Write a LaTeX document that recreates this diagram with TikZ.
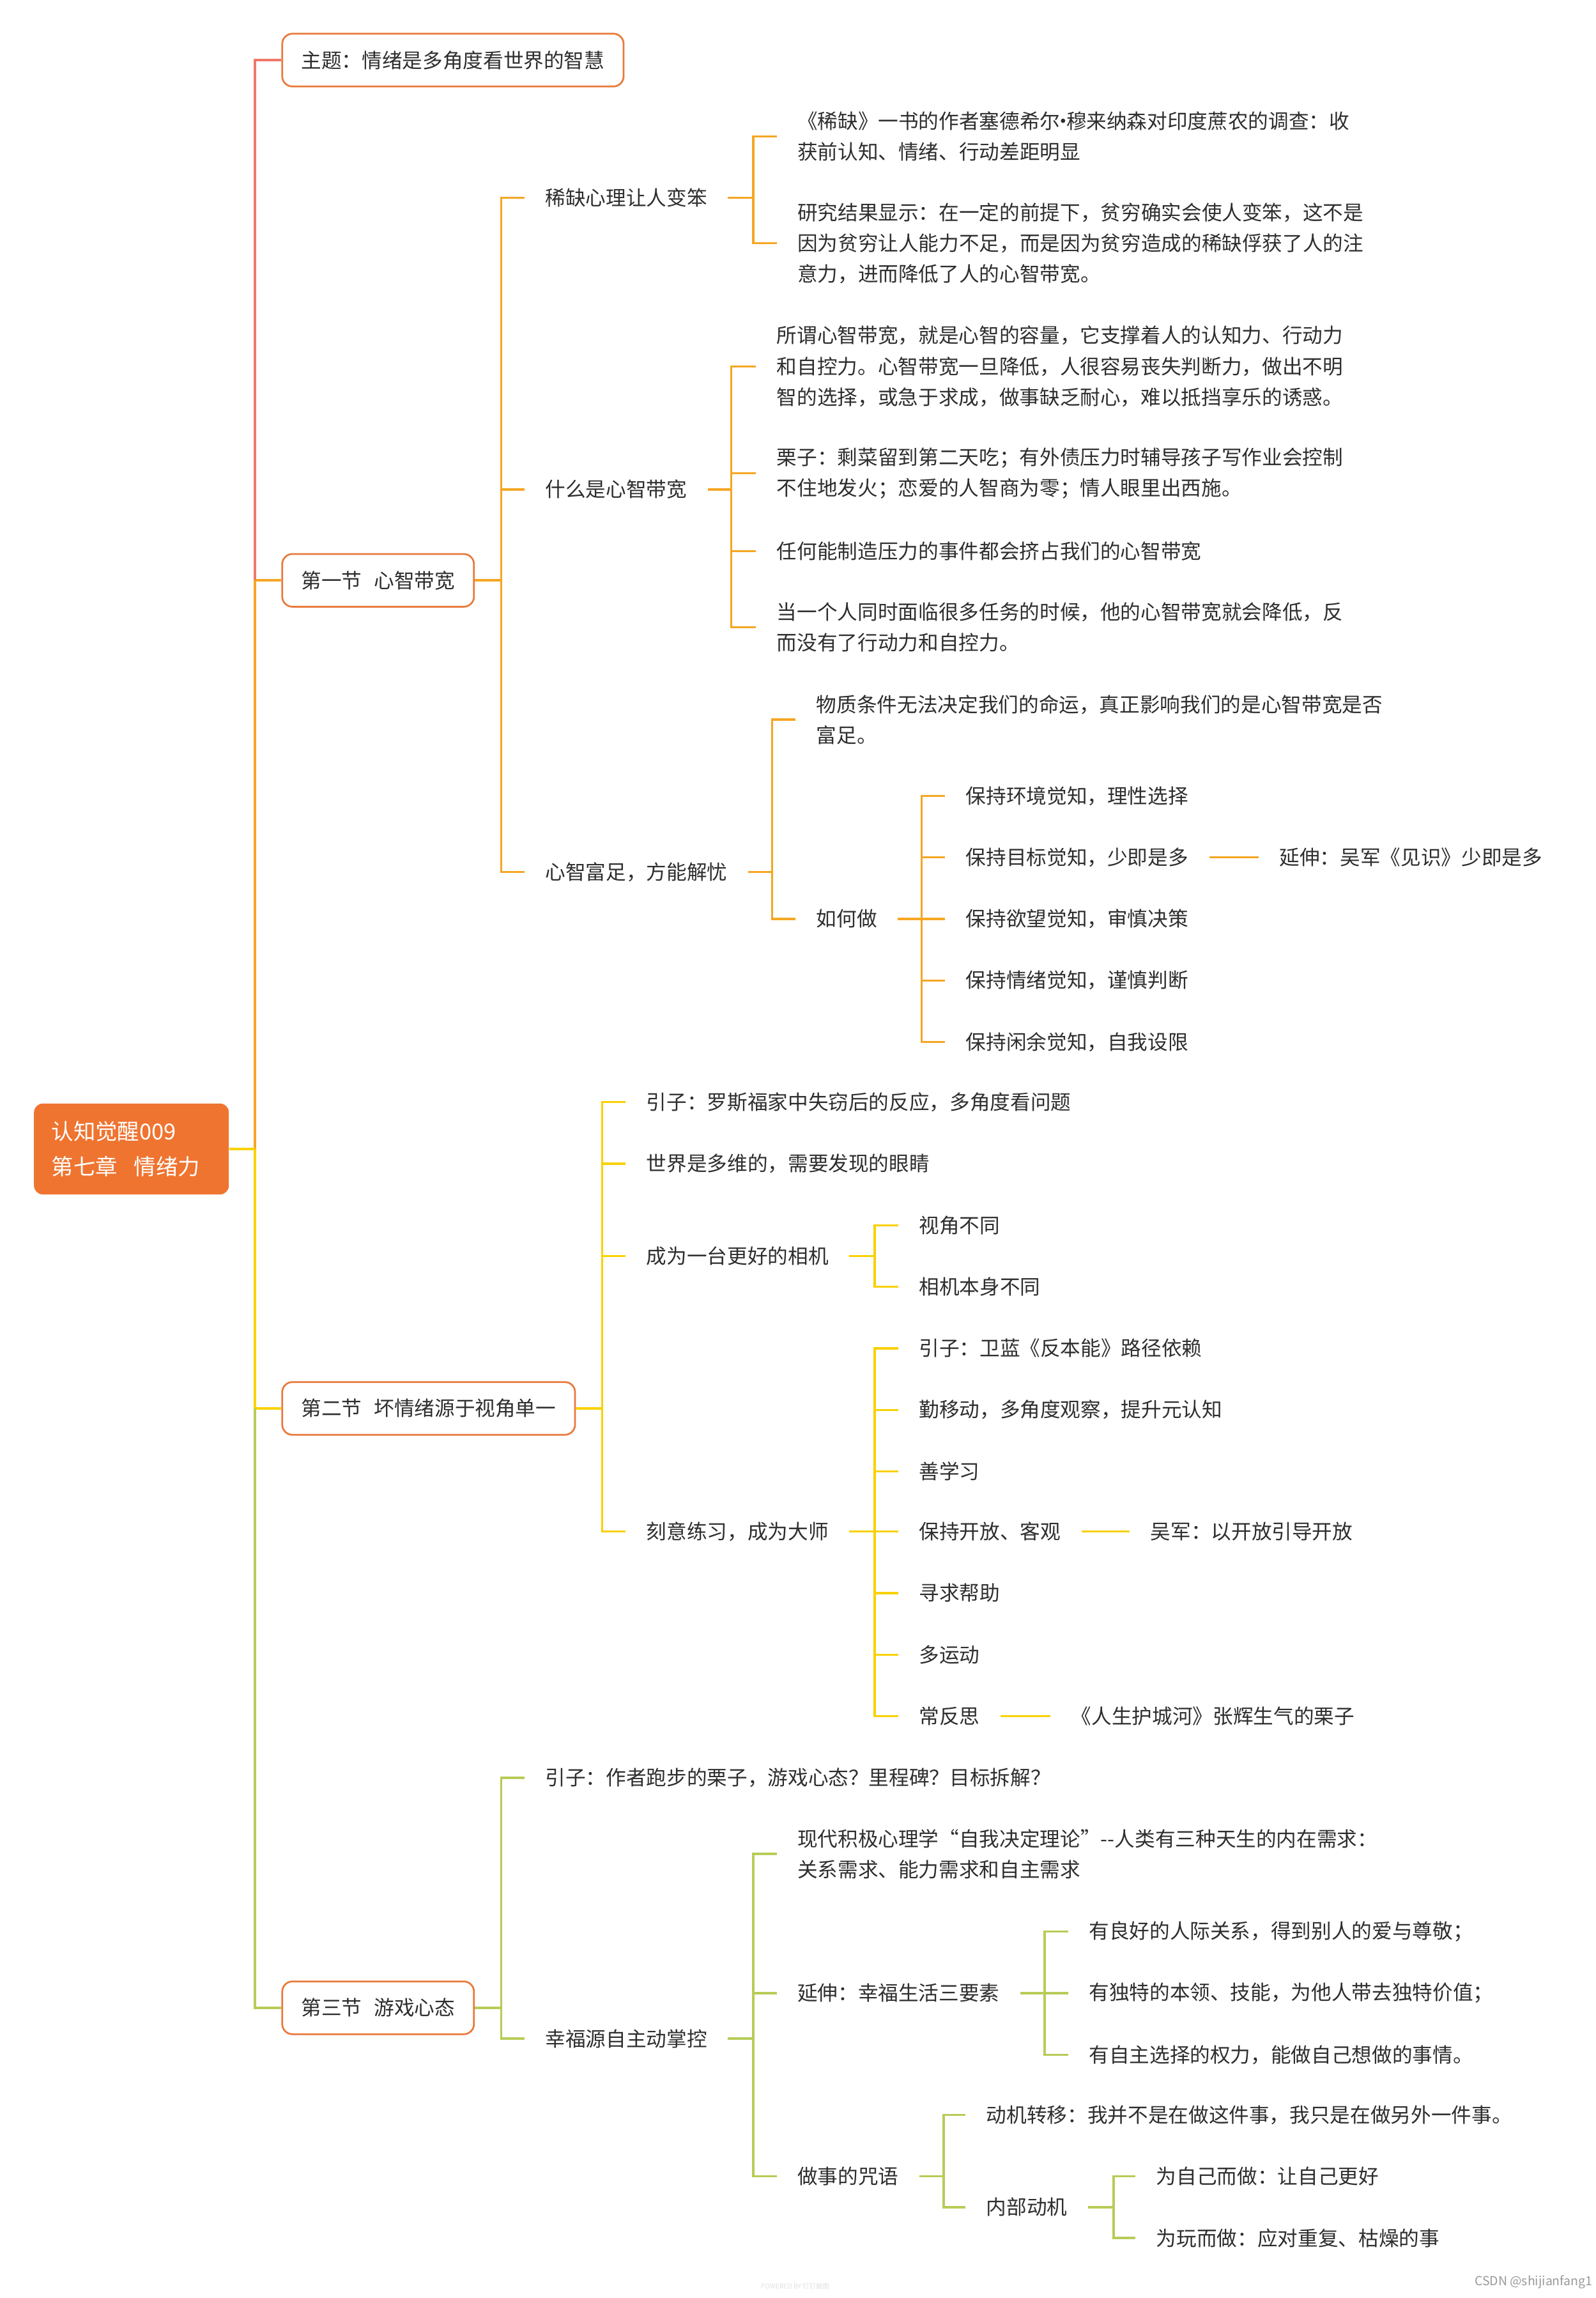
\documentclass[tikz,border=0pt]{standalone}
\usepackage{fontspec}
\setmainfont{Noto Sans CJK SC}
\usetikzlibrary{calc}
\definecolor{cRed}{HTML}{F07869}
\definecolor{cOra}{HTML}{F5A623}
\definecolor{cYel}{HTML}{F9D100}
\definecolor{cGrn}{HTML}{B6CC56}
\definecolor{cBox}{HTML}{E87A3C}
\definecolor{cRoot}{HTML}{EF7430}
\definecolor{cText}{HTML}{2E2E2E}
\begin{document}
\begin{tikzpicture}[x=1pt,y=-1pt,
  txt/.style={anchor=west,inner sep=0pt,align=left,text=cText,font=\fontsize{13.8}{21}\selectfont},
  secbox/.style={anchor=west,draw=cBox,line width=1.2pt,rounded corners=7pt,fill=white,inner xsep=13pt,inner ysep=0pt,minimum height=36pt,text=cText,font=\fontsize{13.8}{21}\selectfont},
  rootbox/.style={anchor=west,fill=cRoot,rounded corners=6pt,inner xsep=12pt,inner ysep=0pt,minimum height=62pt,text width=109pt,align=left,text=white,font=\fontsize{15}{24}\selectfont},
  lnR/.style={draw=cRed,line width=1.5pt},
  lnO/.style={draw=cOra,line width=1.5pt},
  lnY/.style={draw=cYel,line width=1.5pt},
  lnG/.style={draw=cGrn,line width=1.5pt}]
\useasboundingbox (0,0) rectangle (1089,1568);

% ---------- root and level 1 ----------
\node[rootbox] (root) at (23,784) {认知觉醒009\\第七章\hspace{0.75em}情绪力};
\coordinate (T) at (174,784);
\coordinate (T1) at (174,396);
\coordinate (T2) at (174,961);
\node[secbox] (topic) at (192,41) {主题：情绪是多角度看世界的智慧};
\node[secbox] (s1) at (192,396) {第一节\hspace{0.6em}心智带宽};
\node[secbox] (s2) at (192,961) {第二节\hspace{0.6em}坏情绪源于视角单一};
\node[secbox] (s3) at (192,1370) {第三节\hspace{0.6em}游戏心态};

\draw[lnO] (T) |- (s1.west);
\draw[lnR] (T1) |- (topic.west);
\draw[lnY] (T) |- (s2.west);
\draw[lnG] (T2) |- (s3.west);
\draw[lnY] (root.east) -- (T);

% ---------- section 1 ----------
\coordinate (B1) at (342,396);
\node[txt] (a1) at (372,135) {稀缺心理让人变笨};
\node[txt] (a2) at (372,334) {什么是心智带宽};
\node[txt] (a3) at (372,595) {心智富足，方能解忧};
\foreach \c in {a1,a2,a3} \draw[lnO] (s1.east) -- (B1) |- ([xshift=-14pt]\c.west);

\coordinate (Ba1) at (514,135);
\node[txt] (a11) at (544,93) {《稀缺》一书的作者塞德希尔\makebox[0.3em][c]{·}穆来纳森对印度蔗农的调查：收\\获前认知、情绪、行动差距明显};
\node[txt] (a12) at (544,166) {研究结果显示：在一定的前提下，贫穷确实会使人变笨，这不是\\因为贫穷让人能力不足，而是因为贫穷造成的稀缺俘获了人的注\\意力，进而降低了人的心智带宽。};
\foreach \c in {a11,a12} \draw[lnO] ([xshift=14pt]a1.east) -- (Ba1) |- ([xshift=-14pt]\c.west);

\coordinate (Ba2) at (499,334);
\node[txt] (a21) at (530,250) {所谓心智带宽，就是心智的容量，它支撑着人的认知力、行动力\\和自控力。心智带宽一旦降低，人很容易丧失判断力，做出不明\\智的选择，或急于求成，做事缺乏耐心，难以抵挡享乐的诱惑。};
\node[txt] (a22) at (530,323) {栗子：剩菜留到第二天吃；有外债压力时辅导孩子写作业会控制\\不住地发火；恋爱的人智商为零；情人眼里出西施。};
\node[txt] (a23) at (530,376) {任何能制造压力的事件都会挤占我们的心智带宽};
\node[txt] (a24) at (530,428) {当一个人同时面临很多任务的时候，他的心智带宽就会降低，反\\而没有了行动力和自控力。};
\foreach \c in {a21,a22,a23,a24} \draw[lnO] ([xshift=14pt]a2.east) -- (Ba2) |- ([xshift=-14pt]\c.west);

\coordinate (Ba3) at (527,595);
\node[txt] (a31) at (557,491) {物质条件无法决定我们的命运，真正影响我们的是心智带宽是否\\富足。};
\node[txt] (a32) at (557,627) {如何做};
\foreach \c in {a31,a32} \draw[lnO] ([xshift=14pt]a3.east) -- (Ba3) |- ([xshift=-14pt]\c.west);

\coordinate (Bh) at (629,627);
\node[txt] (h1) at (659,543) {保持环境觉知，理性选择};
\node[txt] (h2) at (659,585) {保持目标觉知，少即是多};
\node[txt] (h3) at (659,627) {保持欲望觉知，审慎决策};
\node[txt] (h4) at (659,669) {保持情绪觉知，谨慎判断};
\node[txt] (h5) at (659,711) {保持闲余觉知，自我设限};
\foreach \c in {h1,h2,h3,h4,h5} \draw[lnO] ([xshift=14pt]a32.east) -- (Bh) |- ([xshift=-14pt]\c.west);
\node[txt] (e1) at (873,585) {延伸：吴军《见识》少即是多};
\draw[lnO] ([xshift=14pt]h2.east) -- ([xshift=-14pt]e1.west);

% ---------- section 2 ----------
\coordinate (B2) at (411,961);
\node[txt] (b1) at (441,752) {引子：罗斯福家中失窃后的反应，多角度看问题};
\node[txt] (b2) at (441,794) {世界是多维的，需要发现的眼睛};
\node[txt] (b3) at (441,857) {成为一台更好的相机};
\node[txt] (b4) at (441,1045) {刻意练习，成为大师};
\foreach \c in {b1,b2,b3,b4} \draw[lnY] (s2.east) -- (B2) |- ([xshift=-14pt]\c.west);

\coordinate (Bb3) at (597,857);
\node[txt] (b31) at (627,836) {视角不同};
\node[txt] (b32) at (627,878) {相机本身不同};
\foreach \c in {b31,b32} \draw[lnY] ([xshift=14pt]b3.east) -- (Bb3) |- ([xshift=-14pt]\c.west);

\coordinate (Bb4) at (597,1045);
\node[txt] (b41) at (627,920) {引子：卫蓝《反本能》路径依赖};
\node[txt] (b42) at (627,962) {勤移动，多角度观察，提升元认知};
\node[txt] (b43) at (627,1004) {善学习};
\node[txt] (b44) at (627,1045) {保持开放、客观};
\node[txt] (b45) at (627,1087) {寻求帮助};
\node[txt] (b46) at (627,1129) {多运动};
\node[txt] (b47) at (627,1171) {常反思};
\foreach \c in {b41,b42,b43,b44,b45,b46,b47} \draw[lnY] ([xshift=14pt]b4.east) -- (Bb4) |- ([xshift=-14pt]\c.west);
\node[txt] (b44a) at (785,1045) {吴军：以开放引导开放};
\draw[lnY] ([xshift=14pt]b44.east) -- ([xshift=-14pt]b44a.west);
\node[txt] (b47a) at (731,1171) {《人生护城河》张辉生气的栗子};
\draw[lnY] ([xshift=14pt]b47.east) -- ([xshift=-14pt]b47a.west);

% ---------- section 3 ----------
\coordinate (B3) at (342,1370);
\node[txt] (d1) at (372,1213) {引子：作者跑步的栗子，游戏心态？里程碑？目标拆解？};
\node[txt] (d2) at (372,1391) {幸福源自主动掌控};
\foreach \c in {d1,d2} \draw[lnG] (s3.east) -- (B3) |- ([xshift=-14pt]\c.west);

\coordinate (Bd2) at (514,1391);
\node[txt] (d21) at (544,1265) {现代积极心理学“自我决定理论”-{}-人类有三种天生的内在需求：\\关系需求、能力需求和自主需求};
\node[txt] (d22) at (544,1360) {延伸：幸福生活三要素};
\node[txt] (d23) at (544,1485) {做事的咒语};
\foreach \c in {d21,d22,d23} \draw[lnG] ([xshift=14pt]d2.east) -- (Bd2) |- ([xshift=-14pt]\c.west);

\coordinate (Bd22) at (713,1360);
\node[txt] (d221) at (743,1318) {有良好的人际关系，得到别人的爱与尊敬；};
\node[txt] (d222) at (743,1360) {有独特的本领、技能，为他人带去独特价值；};
\node[txt] (d223) at (743,1402) {有自主选择的权力，能做自己想做的事情。};
\foreach \c in {d221,d222,d223} \draw[lnG] ([xshift=14pt]d22.east) -- (Bd22) |- ([xshift=-14pt]\c.west);

\coordinate (Bd23) at (644,1485);
\node[txt] (d231) at (673,1443) {动机转移：我并不是在做这件事，我只是在做另外一件事。};
\node[txt] (d232) at (673,1506) {内部动机};
\foreach \c in {d231,d232} \draw[lnG] ([xshift=14pt]d23.east) -- (Bd23) |- ([xshift=-14pt]\c.west);

\coordinate (Bd232) at (760,1506);
\node[txt] (d2321) at (789,1485) {为自己而做：让自己更好};
\node[txt] (d2322) at (789,1527) {为玩而做：应对重复、枯燥的事};
\foreach \c in {d2321,d2322} \draw[lnG] ([xshift=14pt]d232.east) -- (Bd232) |- ([xshift=-14pt]\c.west);

% ---------- watermarks ----------
\node[anchor=west,inner sep=0pt,text=black!12,font=\fontsize{4.5}{5}\selectfont] (wm1) at (519,1560) {POWERED BY 钉钉脑图};
\node[anchor=east,inner sep=0pt,text=black!40,font=\fontsize{8.5}{10}\selectfont] (wm2) at (1087,1557) {CSDN @shijianfang1};
\end{tikzpicture}
\end{document}
